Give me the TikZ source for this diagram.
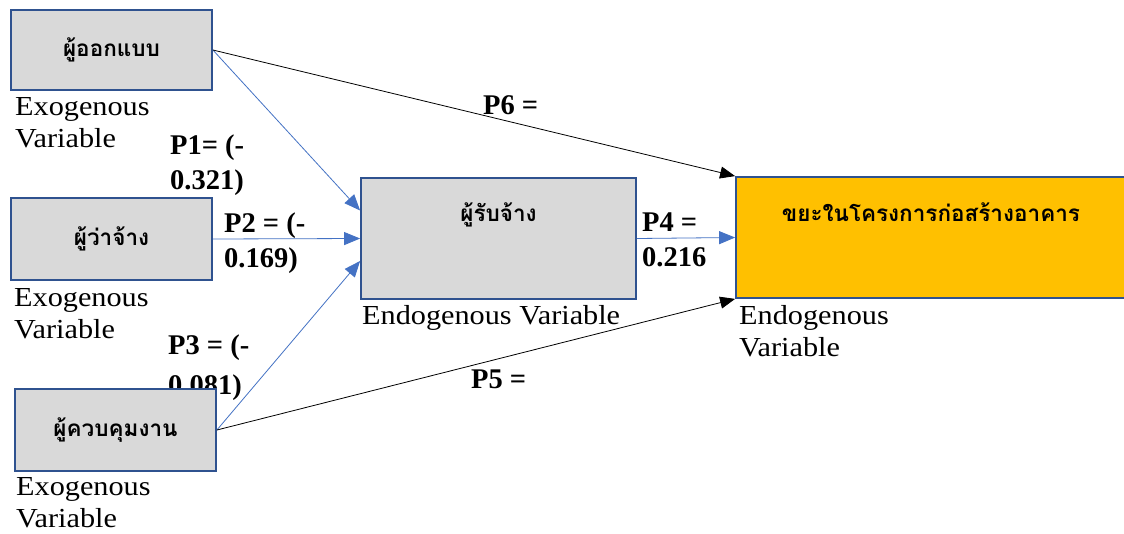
\documentclass[tikz,border=0pt]{standalone}
\usepackage{fontspec}
\setmainfont{Liberation Serif}
\newfontfamily\labelfont{Liberation Serif}[FakeStretch=1.1]
\newfontfamily\thaifont[Script=Thai]{Loma}
\usetikzlibrary{arrows.meta}
\definecolor{boxborder}{HTML}{2F528F}
\definecolor{boxfill}{HTML}{D9D9D9}
\definecolor{arrowblue}{HTML}{4472C4}
\definecolor{goldfill}{HTML}{FFC000}
\begin{document}
\begin{tikzpicture}[x=1pt,y=-1pt,
  varbox/.style={draw=boxborder, line width=1.8pt, fill=boxfill, inner sep=0pt,
    font=\thaifont\bfseries\fontsize{22.5}{26}\selectfont},
  goalbox/.style={varbox, fill=goldfill},
  vartext/.style={anchor=north west, inner sep=0pt, align=left,
    font=\labelfont\fontsize{27.5}{32.5}\selectfont},
  coef/.style={anchor=north west, inner sep=0pt, align=left,
    font=\bfseries\fontsize{28.5}{35}\selectfont},
  bluearrow/.style={draw=arrowblue, line width=0.8pt, -{Triangle[length=16pt,width=13pt]}},
  blackarrow/.style={draw=black, line width=0.8pt, -{Triangle[length=15pt,width=12pt]}},
]
\clip (0,0) rectangle (1124,533);
\fill[white] (0,0) rectangle (1124,533);

% coefficients (drawn first so that boxes and lines lie over them)
\node[coef] (p1) at (170,135) {P1= (-\\0.321)};
\node[coef] (p2) at (224,213) {P2 = (-\\0.169)};
\node[coef] (p3) at (168,335) {P3 = (-\\[5pt]0.081)};
\node[coef] (p4) at (642,213) {P4 =\\0.216};
\node[coef] (p5) at (471,370) {P5 =};
\node[coef] (p6) at (483,95) {P6 =};

% boxes
\node[varbox, minimum width=201pt, minimum height=80pt] (b1) at (111.5,50) {ผู้ออกแบบ};
\node[varbox, minimum width=201pt, minimum height=82pt] (b2) at (111.5,239) {ผู้ว่าจ้าง};
\node[varbox, minimum width=201pt, minimum height=82pt] (b3) at (115.5,430) {ผู้ควบคุมงาน};
\node[varbox, minimum width=275pt, minimum height=121pt] (b4) at (498.5,238.5) {\raisebox{52pt}{ผู้รับจ้าง}};
\node[goalbox, minimum width=390pt, minimum height=121pt] (b5) at (931,237.5) {\raisebox{50pt}{ขยะในโครงการก่อสร้างอาคาร}};

% type labels
\node[vartext] (l1) at (15,97) {Exogenous\\Variable};
\node[vartext] (l2) at (14,288) {Exogenous\\Variable};
\node[vartext] (l3) at (16,477) {Exogenous\\Variable};
\node[vartext] (l4) at (362,305) {Endogenous Variable};
\node[vartext] (l5) at (739,305) {Endogenous\\Variable};

% connectors
\draw[bluearrow] (b1.east) -- ([yshift=28pt]b4.west);
\draw[bluearrow] (b2.east) -- (b4.west);
\draw[bluearrow] (b3.east) -- ([yshift=-22.5pt]b4.west);
\draw[bluearrow] (b4.east) -- (b5.west);
\draw[blackarrow] (b1.east) -- (b5.north west);
\draw[blackarrow] (b3.east) -- (b5.south west);
\end{tikzpicture}
\end{document}
